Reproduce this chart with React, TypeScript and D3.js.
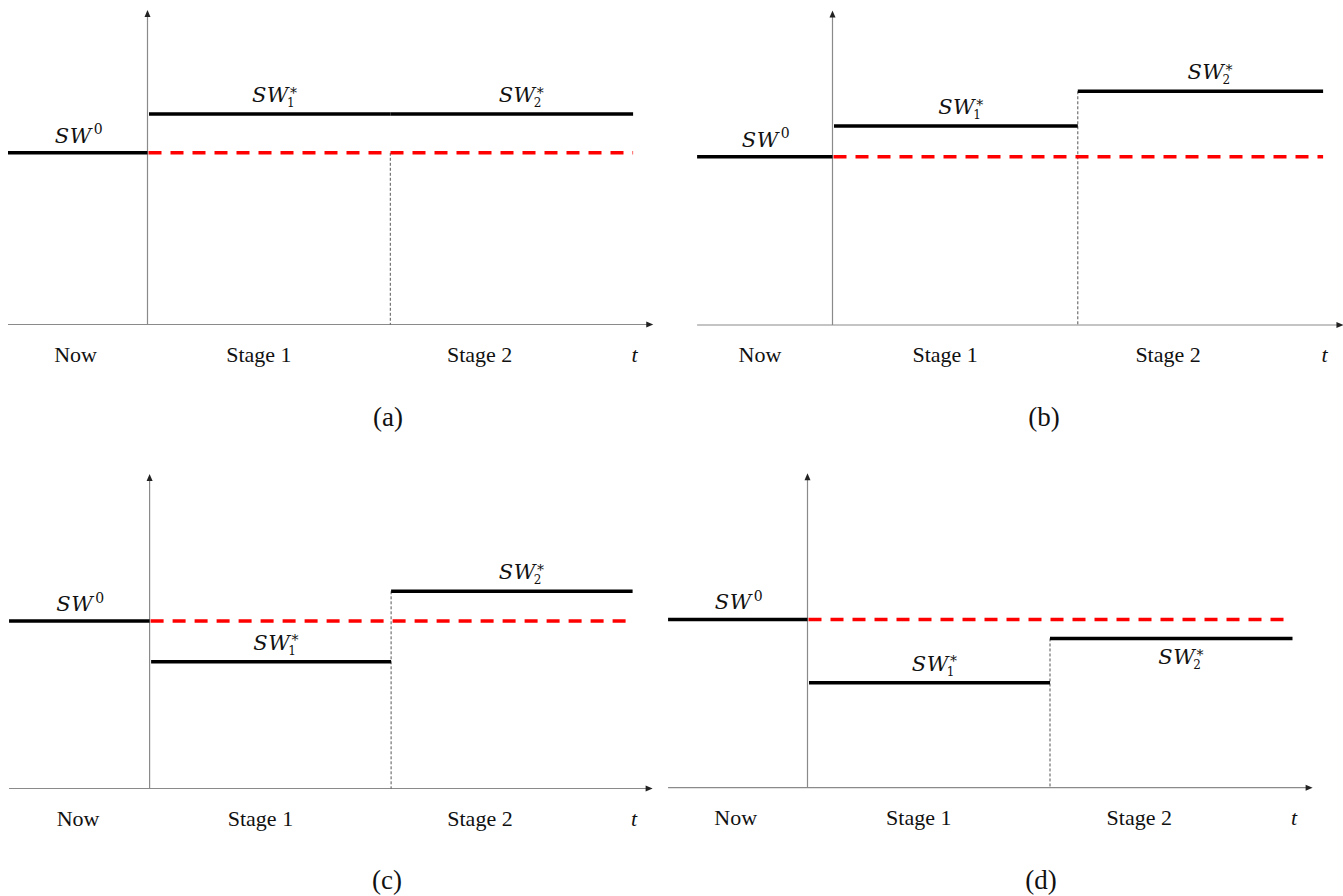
import React from "react";
import * as d3 from "d3";

// Four welfare scenarios over the planning horizon
const panelIds = ["(a)", "(b)", "(c)", "(d)"];
const sw0Values = [1.01, 0.99, 0.985, 0.99];
const sw1Values = [1.238, 1.17, 0.745, 0.617];
const sw2Values = [1.238, 1.375, 1.16, 0.878];
// level from which the stage-boundary guide drops to the time axis
const guideTopValues = [1.01, 1.375, 1.16, 0.878];
// time at which the "Now" segment begins (stage 1 starts at 0, stage 2 at 1, horizon at 2)
const nowStartValues = [-0.5745, -0.552, -0.582, -0.575];
const stageBreaks = [0, 1, 2];
const tickPositions = [-0.296, 0.459, 1.368, 2.006];
const tickLabels = ["Now", "Stage 1", "Stage 2", "t"];
const axisTimeEnd = 2.083;
const axisValueTop = 1.85;

const W = 1343;
const H = 896;

const layouts = [
  { originX: 147.5, axisY: 324.5, stageW: 242.8, unit: 170, captionX: 388, captionY: 426 },
  { originX: 832.5, axisY: 325, stageW: 245.3, unit: 170, captionX: 1044, captionY: 426 },
  { originX: 149.6, axisY: 788.5, stageW: 241.5, unit: 170, captionX: 387, captionY: 889 },
  { originX: 807.5, axisY: 787.7, stageW: 242.5, unit: 170, captionX: 1041, captionY: 889 },
];

const serif = "'Liberation Serif', 'Times New Roman', serif";
const mathFont = "'DejaVu Serif', serif";

// SW label with either a superscript (SW^0) or a stacked subscript/asterisk (SW_k^*)
function SWLabel({ x, y, sub, sup }: { x: number; y: number; sub?: string; sup?: string }) {
  return (
    <text x={x} y={y} fontFamily={mathFont} fontSize={21} fill="#111">
      <tspan fontStyle="italic" letterSpacing={0.5}>SW</tspan>
      {sup && (
        <tspan dx={2} dy={-8.5} fontSize={14}>
          {sup}
        </tspan>
      )}
      {sub && (
        <>
          <tspan dx={-2} dy={5} fontSize={12}>
            {sub}
          </tspan>
          <tspan dx={-4.5} dy={-9.5} fontSize={14}>
            *
          </tspan>
        </>
      )}
    </text>
  );
}

function Panel({ i }: { i: number }) {
  const L = layouts[i];
  const x = d3
    .scaleLinear()
    .domain([0, 2])
    .range([L.originX, L.originX + 2 * L.stageW]);
  const y = d3
    .scaleLinear()
    .domain([0, 1])
    .range([L.axisY, L.axisY - L.unit]);

  const t0 = nowStartValues[i];
  const [s1, s2, end] = stageBreaks;
  const sw0 = sw0Values[i];
  const sw1 = sw1Values[i];
  const sw2 = sw2Values[i];

  const tipX = x(axisTimeEnd);
  const topY = y(axisValueTop);
  const axisStroke = "#8a8a8a";

  const nowMid = (x(t0) + x(s1)) / 2;
  const st1Mid = (x(s1) + x(s2)) / 2;
  const st2Mid = (x(s2) + x(end)) / 2;
  const sw2Below = sw2 < sw0;

  return (
    <g>
      {/* axes */}
      <line x1={x(t0)} y1={L.axisY} x2={tipX - 5} y2={L.axisY} stroke={axisStroke} strokeWidth={1.2} />
      <path
        d={`M${tipX},${L.axisY} L${tipX - 7},${L.axisY - 3} L${tipX - 7},${L.axisY + 3} Z`}
        fill="#222"
      />
      <line x1={x(0)} y1={L.axisY} x2={x(0)} y2={topY + 5} stroke={axisStroke} strokeWidth={1.2} />
      <path d={`M${x(0)},${topY} L${x(0) - 3},${topY + 7} L${x(0) + 3},${topY + 7} Z`} fill="#222" />

      {/* stage boundary guide */}
      <line
        x1={x(s2)}
        y1={y(guideTopValues[i])}
        x2={x(s2)}
        y2={L.axisY}
        stroke="#555"
        strokeWidth={1}
        strokeDasharray="3 2"
      />

      {/* status-quo welfare carried forward */}
      <line
        x1={x(s1) + 1}
        y1={y(sw0)}
        x2={x(end)}
        y2={y(sw0)}
        stroke="#f00"
        strokeWidth={3.5}
        strokeDasharray="13 9"
      />

      {/* welfare levels */}
      <line x1={x(t0)} y1={y(sw0)} x2={x(s1)} y2={y(sw0)} stroke="#000" strokeWidth={3.5} />
      <line x1={x(s1) + 1.5} y1={y(sw1)} x2={x(s2)} y2={y(sw1)} stroke="#000" strokeWidth={3.5} />
      <line x1={x(s2)} y1={y(sw2)} x2={x(end)} y2={y(sw2)} stroke="#000" strokeWidth={3.5} />

      {/* level labels */}
      <SWLabel x={nowMid - 23} y={y(sw0) - 10} sup="0" />
      <SWLabel x={st1Mid - 17} y={y(sw1) - 12} sub="1" />
      <SWLabel x={st2Mid - 13} y={sw2Below ? y(sw2) + 26 : y(sw2) - 12} sub="2" />

      {/* time labels */}
      {tickLabels.map((lab, k) => (
        <text
          key={lab}
          x={x(tickPositions[k])}
          y={L.axisY + 37}
          textAnchor="middle"
          fontFamily={serif}
          fontSize={22}
          fontStyle={lab === "t" ? "italic" : "normal"}
          fill="#111"
        >
          {lab}
        </text>
      ))}

      {/* caption */}
      <text
        x={L.captionX}
        y={L.captionY}
        textAnchor="middle"
        fontFamily={serif}
        fontSize={27}
        fill="#111"
      >
        {panelIds[i]}
      </text>
    </g>
  );
}

export default function App() {
  return (
    <svg
      width={W}
      height={H}
      viewBox={`0 0 ${W} ${H}`}
      style={{ position: "absolute", left: 0, top: 0, background: "#fff" }}
    >
      <rect x={0} y={0} width={W} height={H} fill="#fff" />
      {panelIds.map((_, i) => (
        <Panel key={i} i={i} />
      ))}
    </svg>
  );
}
